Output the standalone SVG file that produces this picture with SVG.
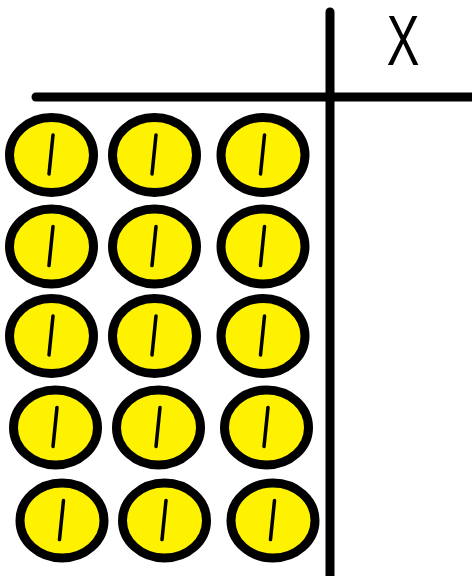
<svg xmlns="http://www.w3.org/2000/svg" width="472" height="576" viewBox="0 0 472 576">
<style>
.coin{fill:#FFF200;stroke:#000;stroke-width:9}
.one{stroke:#000;stroke-width:3.5;stroke-linecap:round}
.axis{stroke:#000;stroke-width:9;stroke-linecap:round}
.lbl{font-family:"Liberation Sans",Arial,sans-serif;font-size:70px;fill:#000}
</style>
<defs>
<g id="coin">
<ellipse class="coin" cx="0" cy="0" rx="42" ry="37.5"/>
<line class="one" x1="1.5" y1="-20" x2="-2.5" y2="19"/>
</g>
</defs>
<rect width="472" height="576" fill="#fff"/>
<g id="axes">
<line class="axis" x1="330" y1="12" x2="330" y2="580"/>
<line class="axis" x1="36" y1="97" x2="476" y2="97"/>
</g>
<g id="header">
<text class="lbl" transform="scale(0.7,1)" x="575.7" y="65" text-anchor="middle">X</text>
</g>
<g id="coins">
<use id="c11" href="#coin" x="51.5" y="155"/>
<use id="c12" href="#coin" x="154.5" y="155"/>
<use id="c13" href="#coin" x="263" y="155"/>
<use id="c21" href="#coin" x="51.5" y="246.5"/>
<use id="c22" href="#coin" x="154.5" y="246.5"/>
<use id="c23" href="#coin" x="263" y="246.5"/>
<use id="c31" href="#coin" x="51.5" y="336"/>
<use id="c32" href="#coin" x="154.5" y="336"/>
<use id="c33" href="#coin" x="263" y="336"/>
<use id="c41" href="#coin" x="55.5" y="427.5"/>
<use id="c42" href="#coin" x="158.5" y="427.5"/>
<use id="c43" href="#coin" x="266.5" y="427.5"/>
<use id="c51" href="#coin" x="62" y="520.5"/>
<use id="c52" href="#coin" x="164.5" y="520.5"/>
<use id="c53" href="#coin" x="273" y="520.5"/>
</g>
</svg>
